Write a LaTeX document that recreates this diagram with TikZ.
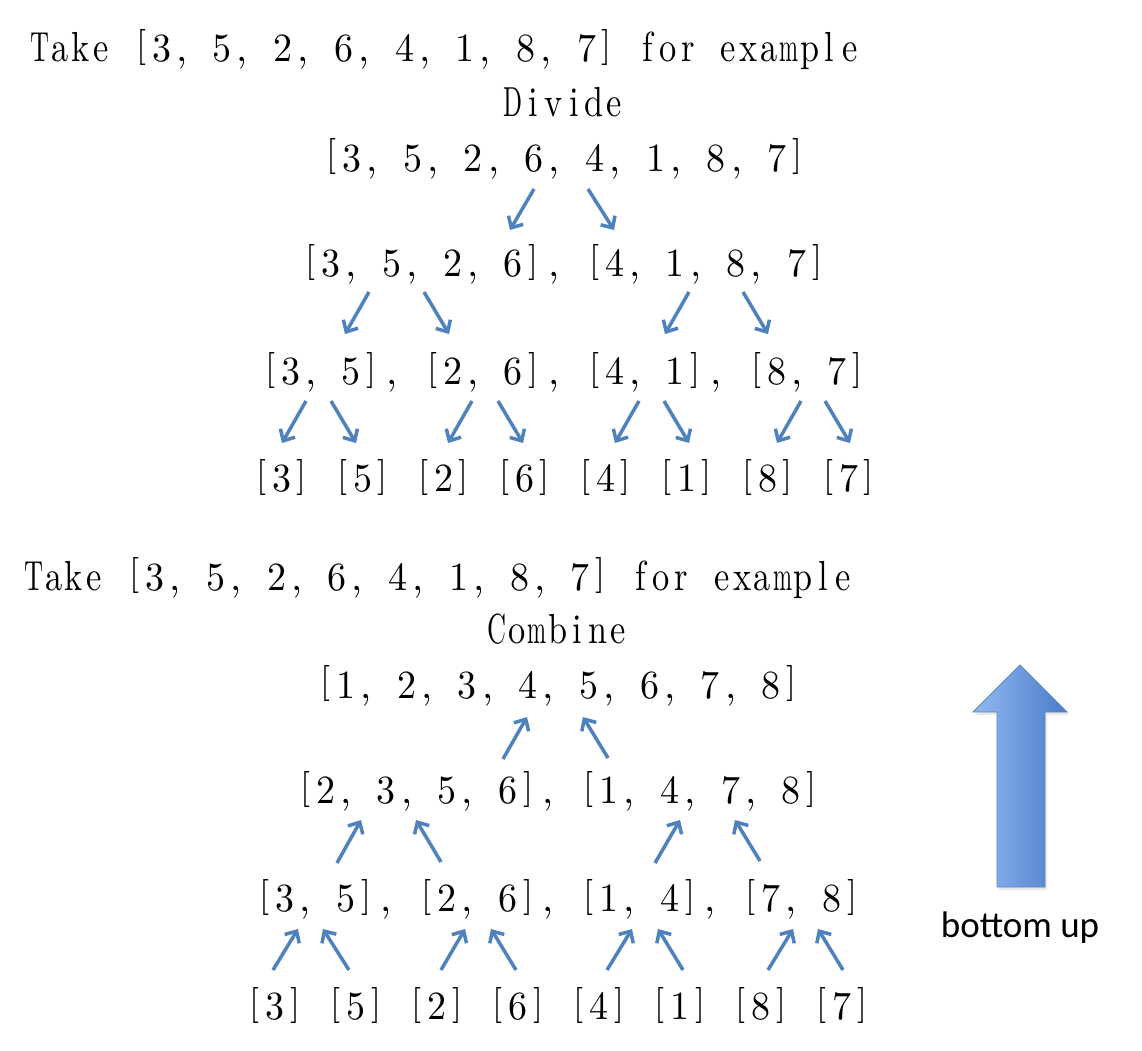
\documentclass[tikz,border=0pt]{standalone}
\usepackage{fontspec}
\usepackage{graphicx}
\usetikzlibrary{arrows.meta}
\newfontfamily\romcell{lmroman10-regular.otf}
\newfontfamily\letcell[FakeStretch=0.82]{lmroman10-regular.otf}
\newfontfamily\capfont{Carlito}
\definecolor{arrowblue}{HTML}{4F81BD}
\definecolor{bigleft}{HTML}{92B9F2}
\definecolor{bigright}{HTML}{4A7CC9}
\definecolor{bigline}{HTML}{5A86C4}
\newlength\cellw
\setlength\cellw{20.25pt}
\newsavebox\cellbox
\newcommand\onecell[1]{%
  \sbox\cellbox{#1}%
  \ifdim\wd\cellbox>19pt
    \makebox[\cellw]{\resizebox{19pt}{\height}{#1}}%
  \else
    \makebox[\cellw]{#1}%
  \fi}
\newcommand\lbrk{\onecell{\raisebox{5.5pt}{\fontsize{36}{40}\selectfont[}}}
\newcommand\rbrk{\onecell{\raisebox{5.5pt}{\fontsize{36}{40}\selectfont]}}}
\ExplSyntaxOn
\NewDocumentCommand\cells{m}{%
  {\romcell\fontsize{40}{46}\selectfont
  \str_map_inline:nn {#1}
    { \str_case:nnF {##1} { {[} {\lbrk} {]} {\rbrk} } { \onecell{##1} } }}}
\NewDocumentCommand\wcells{m}{%
  {\letcell\fontsize{42}{46}\selectfont
  \str_map_inline:nn {#1} { \onecell{##1} }}}
\ExplSyntaxOff
\begin{document}
\begin{tikzpicture}[x=1pt,y=-1pt,
  txt/.style={inner sep=0pt, anchor=base},
  link/.style={draw=arrowblue, line width=3.5pt, -{Straight Barb[length=9pt,width=17pt]}},
  caption/.style={font=\capfont\fontsize{37}{42}\selectfont, inner sep=0pt, anchor=base}
]
\useasboundingbox (0,0) rectangle (1142,1050);

% ---------- Divide ----------
\node[txt] (t1) at (445,61.5) {\wcells{Take }\cells{[3, 5, 2, 6, 4, 1, 8, 7]}\wcells{ for example}};
\node[txt] (dv) at (564,116.5) {\wcells{Divide}};
\node[txt] (a0) at (564.5,171) {\cells{[3, 5, 2, 6, 4, 1, 8, 7]}};
\node[txt] (a1) at (564,276.5) {\cells{[3, 5, 2, 6], [4, 1, 8, 7]}};
\node[txt] (a2) at (564,384.5) {\cells{[3, 5], [2, 6], [4, 1], [8, 7]}};
\node[txt] (a3) at (565,491.5) {\cells{[3] [5] [2] [6] [4] [1] [8] [7]}};

\coordinate (d01s) at (534,189); \coordinate (d01e) at (510,230);
\coordinate (d02s) at (588,189); \coordinate (d02e) at (614,230);
\draw[link] (d01s) -- (d01e);
\draw[link] (d02s) -- (d02e);

\coordinate (d11s) at (369,292); \coordinate (d11e) at (345,334);
\coordinate (d12s) at (424,292); \coordinate (d12e) at (449,334);
\coordinate (d13s) at (689,292); \coordinate (d13e) at (665,334);
\coordinate (d14s) at (743,292); \coordinate (d14e) at (768,334);
\foreach \i in {1,...,4} \draw[link] (d1\i s) -- (d1\i e);

\coordinate (d21s) at (306,401); \coordinate (d21e) at (282,443);
\coordinate (d22s) at (331,401); \coordinate (d22e) at (356,443);
\coordinate (d23s) at (472,401); \coordinate (d23e) at (448,443);
\coordinate (d24s) at (498,401); \coordinate (d24e) at (523,443);
\coordinate (d25s) at (639,401); \coordinate (d25e) at (615,443);
\coordinate (d26s) at (664,401); \coordinate (d26e) at (689,443);
\coordinate (d27s) at (801,401); \coordinate (d27e) at (777,443);
\coordinate (d28s) at (825,401); \coordinate (d28e) at (850,443);
\foreach \i in {1,...,8} \draw[link] (d2\i s) -- (d2\i e);

% ---------- Combine ----------
\node[txt] (t2) at (438.5,590) {\wcells{Take }\cells{[3, 5, 2, 6, 4, 1, 8, 7]}\wcells{ for example}};
\node[txt] (cb) at (557.5,643) {\wcells{Combine}};
\node[txt] (b0) at (558.5,698) {\cells{[1, 2, 3, 4, 5, 6, 7, 8]}};
\node[txt] (b1) at (558.5,803.5) {\cells{[2, 3, 5, 6], [1, 4, 7, 8]}};
\node[txt] (b2) at (558.5,911.5) {\cells{[3, 5], [2, 6], [1, 4], [7, 8]}};
\node[txt] (b3) at (558.5,1019.5) {\cells{[3] [5] [2] [6] [4] [1] [8] [7]}};

\coordinate (c01s) at (503,759); \coordinate (c01e) at (527,717);
\coordinate (c02s) at (608,758); \coordinate (c02e) at (583,717);
\draw[link] (c01s) -- (c01e);
\draw[link] (c02s) -- (c02e);

\coordinate (c11s) at (337,863); \coordinate (c11e) at (361,820);
\coordinate (c12s) at (441,862); \coordinate (c12e) at (416,820);
\coordinate (c13s) at (655,863); \coordinate (c13e) at (680,820);
\coordinate (c14s) at (760,861); \coordinate (c14e) at (735,820);
\foreach \i in {1,...,4} \draw[link] (c1\i s) -- (c1\i e);

\coordinate (c21s) at (273,970); \coordinate (c21e) at (298,929);
\coordinate (c22s) at (349,970); \coordinate (c22e) at (323,929);
\coordinate (c23s) at (441,970); \coordinate (c23e) at (465,929);
\coordinate (c24s) at (516,970); \coordinate (c24e) at (491,929);
\coordinate (c25s) at (607,970); \coordinate (c25e) at (632,929);
\coordinate (c26s) at (683,970); \coordinate (c26e) at (658,929);
\coordinate (c27s) at (768,970); \coordinate (c27e) at (793,929);
\coordinate (c28s) at (843,970); \coordinate (c28e) at (818,929);
\foreach \i in {1,...,8} \draw[link] (c2\i s) -- (c2\i e);

% ---------- bottom-up arrow ----------
\fill[black!25, opacity=0.35] (1022,668) -- (1069,715) -- (1047,715) -- (1047,890) -- (999,890) -- (999,715) -- (975,715) -- cycle;
\shade[left color=bigleft, right color=bigright, draw=bigline, line width=0.8pt]
  (1020,665) -- (1067,712) -- (1045,712) -- (1045,887) -- (997,887) -- (997,712) -- (973,712) -- cycle;
\node[caption] (bu) at (1020,937) {bottom up};
\end{tikzpicture}
\end{document}
